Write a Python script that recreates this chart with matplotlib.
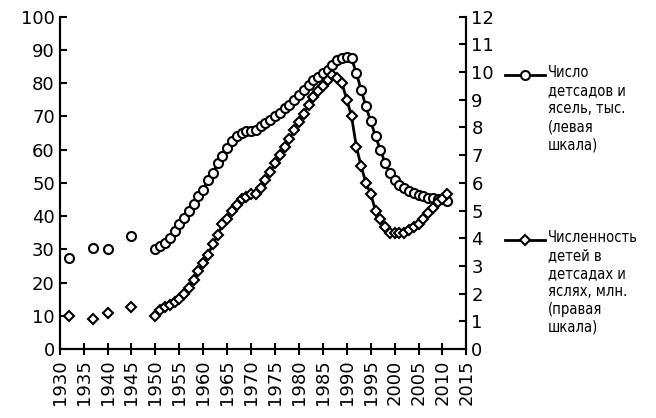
import matplotlib
matplotlib.use("Agg")
import matplotlib.pyplot as plt
from matplotlib.lines import Line2D

early_years = [1932, 1937, 1940, 1945]
early_kg = [27.5, 30.5, 30, 34]
early_kids = [1.2, 1.1, 1.3, 1.5]

years = list(range(1950, 2012))
kg = [30, 31, 32, 33.5, 35.5, 37.5, 39.5, 41.5, 43.5, 46, 48, 51, 53, 56, 58, 60.5, 62.5, 64, 65, 65.5,
      65.5, 66, 67, 68, 69, 70, 71, 72.5, 73.5, 75, 76.5, 78, 79.5, 81, 82, 83, 84, 85.5, 87, 87.5,
      88, 87.5, 83, 78, 73, 68.5, 64, 60, 56, 53, 51, 49.5, 48.5, 47.5, 47, 46.5, 46, 45.5, 45.5, 45,
      45, 44.5]
kids = [1.2, 1.4, 1.5, 1.6, 1.7, 1.8, 2.0, 2.2, 2.5, 2.8, 3.1, 3.4, 3.8, 4.1, 4.5, 4.7, 5.0, 5.2, 5.4, 5.5,
        5.6, 5.6, 5.8, 6.1, 6.4, 6.7, 7.0, 7.3, 7.6, 7.9, 8.2, 8.5, 8.8, 9.1, 9.3, 9.5, 9.7, 9.9, 9.8, 9.6,
        9.0, 8.4, 7.3, 6.6, 6.0, 5.6, 5.0, 4.7, 4.4, 4.2, 4.2, 4.2, 4.2, 4.3, 4.4, 4.5, 4.7, 4.9, 5.1, 5.3,
        5.4, 5.6]
xticks = list(range(1930, 2016, 5))
legend_labels = ['Число\nдетсадов и\nясель, тыс.\n(левая\nшкала)',
                 'Численность\nдетей в\nдетсадах и\nяслях, млн.\n(правая\nшкала)']

plt.rcParams['font.family'] = ['DejaVu Sans']
fig = plt.figure(figsize=(6.56, 4.18), dpi=100)
ax = fig.add_axes([0.091, 0.165, 0.62, 0.795])
ax2 = ax.twinx()

mk = dict(markerfacecolor='white', markeredgecolor='black', markeredgewidth=1.5, color='black')
ax.plot(early_years, early_kg, 'o', ms=6.5, ls='none', **mk)
ax.plot(years, kg, marker='o', ms=6.5, lw=2, **mk)
ax2.plot(early_years, early_kids, 'D', ms=5.5, ls='none', **mk)
ax2.plot(years, kids, marker='D', ms=5.5, lw=2, **mk)

ax.set_xlim(1930, 2015)
ax.set_ylim(0, 100)
ax2.set_ylim(0, 12)
ax.set_xticks(xticks)
ax.set_xticklabels([str(x) for x in xticks], rotation=90)
ax.set_yticks(range(0, 101, 10))
ax2.set_yticks(range(0, 13))
for a in (ax, ax2):
    a.tick_params(labelsize=13, width=1.5, length=5, direction='in')
    for s in a.spines.values():
        s.set_linewidth(1.5)
ax.spines['top'].set_visible(False)
ax2.spines['top'].set_visible(False)
ax.tick_params(axis='x', direction='inout', length=8)

W, H = 656, 418
for (ypx, txt, m, ms) in [(75, legend_labels[0], 'o', 6.5), (240, legend_labels[1], 'D', 5.5)]:
    yf = 1 - ypx / H
    fig.add_artist(Line2D([505 / W, 545 / W], [yf, yf], lw=2, color='black', transform=fig.transFigure))
    fig.add_artist(Line2D([525 / W], [yf], marker=m, ms=ms, transform=fig.transFigure, **mk))
    fig.text(548 / W, yf + 10 / H, txt, fontsize=10.5, va='top', ha='left', linespacing=1.25,
             fontstretch='condensed')
fig.savefig('out.png', dpi=100)
